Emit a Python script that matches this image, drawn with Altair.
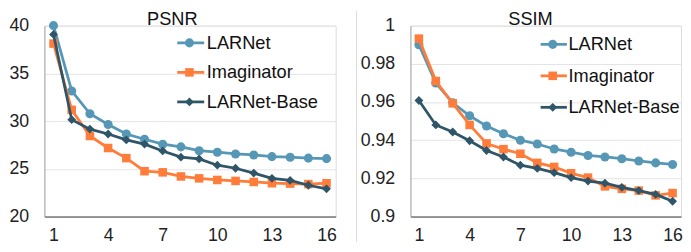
import altair as alt
import pandas as pd

steps = list(range(1, 17))
x_ticks = [1, 4, 7, 10, 13, 16]
series_names = ["LARNet", "Imaginator", "LARNet-Base"]
series_colors = ["#5797B6", "#FF7C3A", "#2F5568"]
series_shapes = ["circle", "square", "diamond"]

psnr_larnet = [40.0, 33.16, 30.77, 29.64, 28.65, 28.1, 27.58, 27.3, 26.9, 26.74, 26.56, 26.45, 26.28, 26.22, 26.12, 26.07]
psnr_imag = [38.12, 31.18, 28.44, 27.18, 26.12, 24.75, 24.63, 24.2, 24.0, 23.83, 23.73, 23.62, 23.49, 23.45, 23.4, 23.49]
psnr_base = [39.08, 30.15, 29.16, 28.65, 28.03, 27.59, 26.87, 26.22, 26.04, 25.38, 25.06, 24.55, 24.0, 23.78, 23.28, 22.9]
psnr_ticks = [20, 25, 30, 35, 40]

ssim_larnet = [0.990, 0.970, 0.9596, 0.9528, 0.9474, 0.9434, 0.940, 0.938, 0.9354, 0.9337, 0.932, 0.9312, 0.9303, 0.9291, 0.9281, 0.9273]
ssim_imag = [0.9932, 0.971, 0.9593, 0.948, 0.9383, 0.9353, 0.9329, 0.9281, 0.926, 0.9227, 0.9204, 0.9158, 0.9145, 0.9136, 0.9111, 0.9123]
ssim_base = [0.9608, 0.948, 0.9443, 0.9397, 0.9346, 0.9312, 0.9269, 0.9252, 0.923, 0.9204, 0.9186, 0.9175, 0.9153, 0.9136, 0.9116, 0.908]
ssim_ticks = [0.9, 0.92, 0.94, 0.96, 0.98, 1.0]

FONT = "Liberation Sans"


def panel(title, values_list, yticks, ydomain, width, height, legend_pos, title_x, yfmt, extra=None):
    xenc = alt.X("step:Q", scale=alt.Scale(domain=[0.5, 16.5], nice=False, zero=False),
                 axis=alt.Axis(values=x_ticks, ticks=False, grid=False, domainColor="#404040",
                               domainWidth=1, labelFontSize=18, labelPadding=10, labelColor="#222",
                               labelFont=FONT, title=None, labelFlush=False))
    yenc = alt.Y("v:Q", scale=alt.Scale(domain=ydomain, nice=False, zero=False),
                 axis=alt.Axis(values=yticks, ticks=False, grid=True, gridColor="#e3e3e3",
                               domainColor="#a6a6a6", domainWidth=1, labelFontSize=18,
                               labelPadding=16, labelColor="#222", labelFont=FONT, title=None,
                               format=yfmt, labelFlush=False))
    layers = []
    if extra is not None:
        layers.extend(extra)
    for name, vals, col, shp in zip(series_names, values_list, series_colors, series_shapes):
        df = pd.DataFrame({"step": steps, "v": vals, "series": name})
        base = alt.Chart(df)
        layers.append(base.mark_line(strokeWidth=2.8, color=col).encode(x=xenc, y=yenc))
        size = 85 if shp == "circle" else (75 if shp == "square" else 80)
        layers.append(base.mark_point(filled=True, opacity=1, shape=shp, size=size, color=col)
                      .encode(x=xenc, y=yenc))
    lx0, lx1, lxm, ltx, ly0, dy = legend_pos
    for i, (name, col, shp) in enumerate(zip(series_names, series_colors, series_shapes)):
        ldf = pd.DataFrame({"series": [name]})
        lb = alt.Chart(ldf)
        yy = ly0 + i * dy
        layers.append(lb.mark_rule(strokeWidth=2.8, color=col).encode(
            x=alt.value(lx0), x2=alt.value(lx1), y=alt.value(yy)))
        size = 85 if shp == "circle" else (75 if shp == "square" else 80)
        layers.append(lb.mark_point(filled=True, opacity=1, shape=shp, size=size, color=col).encode(
            x=alt.value(lxm), y=alt.value(yy)))
        layers.append(lb.mark_text(align="left", baseline="middle", fontSize=18.5, font=FONT,
                                   color="#111").encode(
            x=alt.value(ltx), y=alt.value(yy), text="series:N"))
    tdf = pd.DataFrame({"title": [title]})
    layers.append(alt.Chart(tdf).mark_text(align="center", baseline="alphabetic", fontSize=18.5,
                                           font=FONT, color="#111").encode(
        x=alt.value(title_x), y=alt.value(-1), text="title:N"))
    return alt.layer(*layers).properties(width=width, height=height)


left = panel("PSNR", [psnr_larnet, psnr_imag, psnr_base], psnr_ticks, [20, 40], 296, 194,
             (135, 162.4, 147.4, 165, 17.5, 30), 130, "d")

sep_df = pd.DataFrame({"series": ["sep"]})
sep = alt.Chart(sep_df).mark_rule(color="#d9d9d9", strokeWidth=1).encode(
    x=alt.value(-54.7), y=alt.value(-15), y2=alt.value(220))

right = panel("SSIM", [ssim_larnet, ssim_imag, ssim_base], ssim_ticks, [0.9, 1.0], 275, 194,
              (132.3, 159, 144.6, 160.6, 19, 32), 122, "~g", extra=[sep])

chart = alt.hconcat(left, right, spacing=18).properties(
    padding={"left": 0, "top": -1, "right": 0, "bottom": -1}
).configure_view(strokeOpacity=0).configure(font=FONT)

chart.save("out.html", embed_options={"renderer": "svg", "actions": False})
